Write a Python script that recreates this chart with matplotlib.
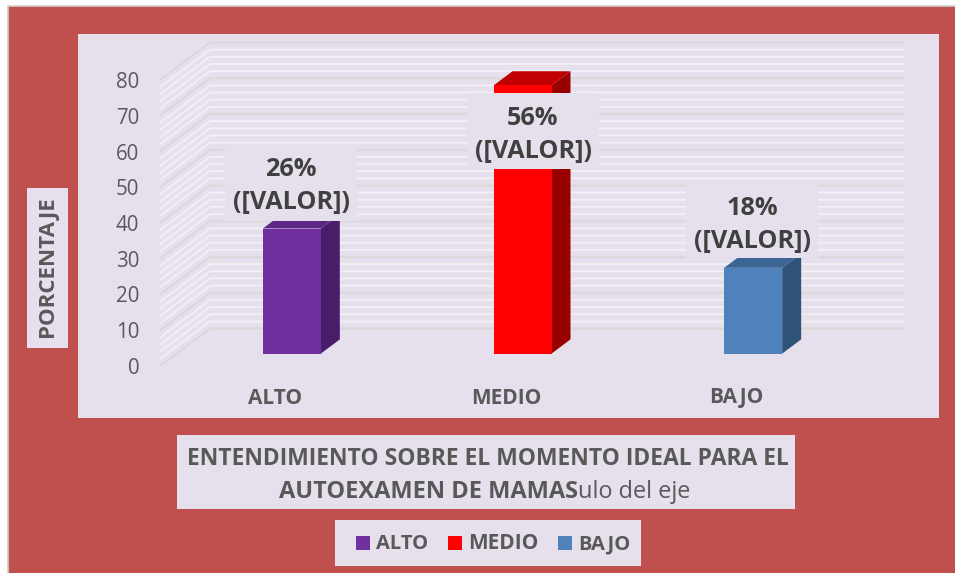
import matplotlib
matplotlib.use('Agg')
import matplotlib.pyplot as plt
from matplotlib.patches import Rectangle

plt.rcParams['font.family'] = ['Open Sans', 'DejaVu Sans']

categorias = ['ALTO', 'MEDIO', 'BAJO']
valores = [35, 75, 24]
porcentajes = ['26%', '56%', '18%']
y_ticks = [0, 10, 20, 30, 40, 50, 60, 70, 80]

color_frente = ['#7030A0', '#FF0000', '#4F81BD']
color_lado = ['#4A1D6B', '#990000', '#2F5278']
color_tapa = ['#5C2785', '#C00000', '#3C6594']

ROJO = '#C0504D'
PANEL = '#E6E0EC'
GRIS = '#595959'
W, H = 955, 573

fig = plt.figure(figsize=(W / 100, H / 100), dpi=100, facecolor='white')


def capa_px(zorder):
    a = fig.add_axes([0, 0, 1, 1], zorder=zorder)
    a.set_xlim(0, W)
    a.set_ylim(H, 0)
    a.axis('off')
    return a


fondo = capa_px(0)
fondo.add_patch(Rectangle((8, 6), W, H, facecolor=ROJO, edgecolor='#D0D0D0', lw=1.2))
fondo.add_patch(Rectangle((78, 34), 861, 384, facecolor=PANEL, edgecolor='none'))

# plano frontal del grafico: x 160-852, y 366-80 en pixeles
ax = fig.add_axes([160 / W, 1 - 366 / H, 692 / W, 286 / H], zorder=1)
ax.patch.set_visible(False)
ax.set_xlim(-0.5, 2.5)
ax.set_ylim(0, 80)
for s in ax.spines.values():
    s.set_visible(False)

# profundidad 3D en unidades de datos
DX = 50 / (692 / 3)
DY = 37.5 / (286 / 80)
x0, x1 = -0.5, 2.51

for v in range(0, 81, 2):
    major = v % 10 == 0
    ax.plot([x0, x0 + DX, x1 + DX], [v, v + DY, v + DY],
            color='#D9D9D9' if major else '#F2F0F4',
            lw=1.5 if major else 1.3, clip_on=False, zorder=2 if major else 1,
            solid_joinstyle='miter', solid_capstyle='butt')

ANCHO = 58 / (692 / 3)
INI = 0.33
FIN = 0.71
for i, v in enumerate(valores):
    xa = i - ANCHO / 2 + INI * DX
    xb = xa + ANCHO
    y0 = INI * DY
    y1 = v + INI * DY
    ddx = (FIN - INI) * DX
    ddy = (FIN - INI) * DY
    ax.fill([xb, xb + ddx, xb + ddx, xb], [y0, y0 + ddy, y1 + ddy, y1],
            color=color_lado[i], lw=0, clip_on=False, zorder=3)
    ax.fill([xa, xb, xb + ddx, xa + ddx], [y1, y1, y1 + ddy, y1 + ddy],
            color=color_tapa[i], lw=0, clip_on=False, zorder=3)
    ax.fill([xa, xb, xb, xa], [y0, y0, y1, y1],
            color=color_frente[i], lw=0, clip_on=False, zorder=4)

ax.set_yticks(y_ticks)
ax.set_xticks(range(len(categorias)))
ax.set_xticklabels(categorias, fontsize=15, fontweight='bold', color=GRIS, va='baseline')
ax.tick_params(axis='y', length=0, pad=15, labelsize=14.8, labelcolor=GRIS)
ax.tick_params(axis='x', length=0, pad=27)

top = capa_px(2)

# etiquetas de datos con su caja
cajas = [(225, 144, 132, 77), (467, 93, 132, 76), (686, 183, 132, 75)]
for (bx, by, bw, bh), p in zip(cajas, porcentajes):
    top.add_patch(Rectangle((bx, by), bw, bh, facecolor=PANEL, edgecolor='none'))
    cx = bx + bw / 2
    top.text(cx, by + 32, p, ha='center', va='baseline', fontsize=18.2,
             fontweight='bold', color='#404040')
    top.text(cx, by + 65, '([VALOR])', ha='center', va='baseline', fontsize=18.2,
             fontweight='bold', color='#404040')

# titulo del eje y
top.add_patch(Rectangle((27, 188), 41, 160, facecolor=PANEL, edgecolor='none'))
top.text(47.5, 267, 'PORCENTAJE', rotation=90, ha='center', va='center',
         fontsize=16, fontweight='bold', color=GRIS)

# titulo del eje x
top.add_patch(Rectangle((177, 435), 618, 74, facecolor=PANEL, edgecolor='none'))
top.text(487.5, 465, 'ENTENDIMIENTO SOBRE EL MOMENTO IDEAL PARA EL', ha='center',
         va='baseline', fontsize=16.5, fontweight='bold', color=GRIS)
top.text(578, 498, 'AUTOEXAMEN DE MAMAS', ha='right', va='baseline', fontsize=17,
         fontweight='bold', color=GRIS)
top.text(578, 498, 'ulo del eje', ha='left', va='baseline', fontsize=16.9, color=GRIS)

# leyenda
top.add_patch(Rectangle((335, 520), 306, 46, facecolor=PANEL, edgecolor='none'))
for nombre, c, xm in zip(categorias, color_frente, [356, 448, 558]):
    top.add_patch(Rectangle((xm, 536), 14, 14, facecolor=c, edgecolor='none'))
    top.text(xm + 20, 549, nombre, ha='left', va='baseline', fontsize=15 if nombre == 'MEDIO' else 14.5,
             fontweight='bold', color=GRIS)

fig.savefig('out.png', dpi=100)
